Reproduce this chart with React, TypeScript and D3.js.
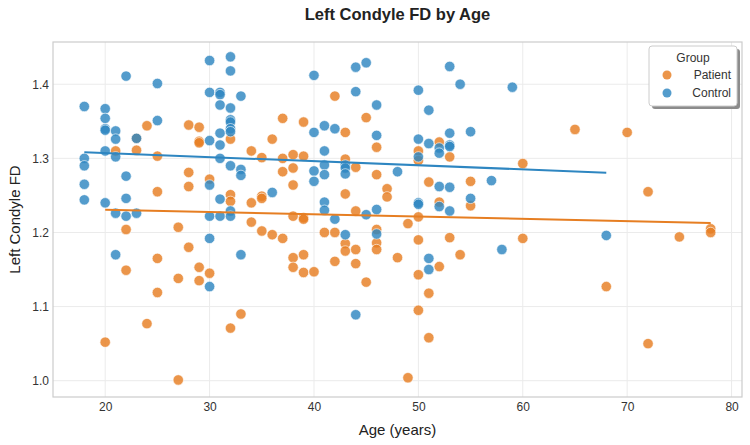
import { useEffect, useRef } from "react";
import * as d3 from "d3";

// Control group: ages and Left Condyle FD
const controlAge = [
  18, 18, 18, 18, 18,
  20, 20, 20, 20, 20, 20,
  21, 21, 21, 21, 21,
  22, 22, 22, 22,
  23, 23,
  25, 25,
  30, 30, 30, 30, 30, 30, 30,
  31, 31, 31, 31, 31, 31, 31, 31,
  32, 32, 32, 32, 32, 32, 32, 32, 32, 32,
  33, 33, 33, 33,
  36,
  40, 40, 40, 40,
  41, 41, 41, 41, 41, 41,
  42, 42,
  43, 43, 43, 43,
  44, 44, 44,
  45, 45,
  46, 46, 46, 46,
  48,
  50, 50, 50, 50, 50,
  51, 51, 51, 51,
  52, 52, 52, 52,
  53, 53, 53, 53, 53, 53,
  54,
  55, 55,
  57, 58, 59, 68,
];
const controlFD = [
  1.370, 1.300, 1.290, 1.265, 1.244,
  1.367, 1.354, 1.340, 1.338, 1.310, 1.240,
  1.337, 1.326, 1.302, 1.226, 1.170,
  1.411, 1.276, 1.246, 1.222,
  1.327, 1.226,
  1.401, 1.351,
  1.432, 1.389, 1.324, 1.264, 1.222, 1.192, 1.127,
  1.389, 1.386, 1.372, 1.334, 1.318, 1.300, 1.245, 1.222,
  1.437, 1.418, 1.368, 1.352, 1.349, 1.340, 1.336, 1.290, 1.229, 1.222,
  1.384, 1.285, 1.277, 1.170,
  1.254,
  1.412, 1.335, 1.283, 1.269,
  1.344, 1.310, 1.291, 1.278, 1.241, 1.230,
  1.340, 1.218,
  1.291, 1.287, 1.279, 1.197,
  1.423, 1.390, 1.089,
  1.429, 1.224,
  1.372, 1.331, 1.231, 1.198,
  1.282,
  1.392, 1.326, 1.302, 1.240, 1.238,
  1.365, 1.320, 1.165, 1.150,
  1.314, 1.307, 1.262, 1.235,
  1.424, 1.334, 1.318, 1.316, 1.261, 1.229,
  1.400,
  1.336, 1.246,
  1.270, 1.177, 1.396, 1.196,
];

// Patient group
const patientAge = [
  20, 21, 22, 22, 23, 23, 24, 24,
  25, 25, 25, 25,
  27, 27, 27,
  28, 28, 28, 28,
  29, 29, 29, 29, 29,
  30, 30,
  32, 32, 32, 32,
  33,
  34, 34, 34,
  35, 35, 35, 35,
  36, 36,
  37, 37, 37, 37,
  38, 38, 38, 38, 38, 38,
  39, 39, 39, 39, 39, 39,
  40, 41,
  42, 42, 42,
  43, 43, 43, 43, 43,
  44, 44, 44, 44,
  45, 45,
  46, 46, 46, 46, 46,
  47, 47, 48, 49, 49,
  50, 50, 50, 50, 50, 50,
  51, 51, 51,
  52, 52, 52,
  53, 53, 54, 55, 55,
  60, 60, 65, 68, 70, 72, 72, 75, 78, 78,
];
const patientFD = [
  1.052, 1.310, 1.204, 1.149, 1.327, 1.311, 1.344, 1.077,
  1.303, 1.255, 1.165, 1.119,
  1.207, 1.138, 1.001,
  1.345, 1.281, 1.262, 1.180,
  1.342, 1.323, 1.321, 1.153, 1.135,
  1.272, 1.145,
  1.326, 1.251, 1.242, 1.071,
  1.090,
  1.310, 1.240, 1.214,
  1.301, 1.249, 1.246, 1.202,
  1.326, 1.197,
  1.354, 1.300, 1.282, 1.192,
  1.305, 1.287, 1.264, 1.222, 1.166, 1.153,
  1.349, 1.303, 1.220, 1.218, 1.170, 1.146,
  1.147, 1.200,
  1.384, 1.200, 1.161,
  1.335, 1.299, 1.252, 1.185, 1.175,
  1.288, 1.229, 1.177, 1.158,
  1.355, 1.133,
  1.315, 1.278, 1.204, 1.186, 1.177,
  1.259, 1.248, 1.166, 1.212, 1.004,
  1.310, 1.297, 1.221, 1.190, 1.143, 1.095,
  1.268, 1.118, 1.058,
  1.322, 1.241, 1.154,
  1.302, 1.193, 1.170, 1.269, 1.236,
  1.293, 1.192, 1.339, 1.127, 1.335, 1.255, 1.050, 1.194, 1.205, 1.200,
];

const groups = ["Patient", "Control"];
const colors = ["#E67E22", "#2E86C1"];
const xTicks = [20, 30, 40, 50, 60, 70, 80];
const yTicks = [1.0, 1.1, 1.2, 1.3, 1.4];

const FONT = "'Liberation Sans', Arial, sans-serif";

const fit = (xs: number[], ys: number[]) => {
  const mx = d3.mean(xs) as number;
  const my = d3.mean(ys) as number;
  let num = 0;
  let den = 0;
  xs.forEach((x, i) => {
    num += (x - mx) * (ys[i] - my);
    den += (x - mx) * (x - mx);
  });
  const slope = num / den;
  return { slope, intercept: my - slope * mx };
};

const App = () => {
  const svgRef = useRef<SVGSVGElement>(null);

  useEffect(() => {
    const width = 750;
    const height = 445;
    const margin = { top: 42, right: 8, bottom: 48, left: 53 };

    const svg = d3.select(svgRef.current);
    svg.selectAll("*").remove();

    const x = d3.scaleLinear().domain([15, 81]).range([margin.left, width - margin.right]);
    const y = d3.scaleLinear().domain([0.978, 1.457]).range([height - margin.bottom, margin.top]);

    const series = [
      { name: groups[0], color: colors[0], ages: patientAge, fd: patientFD },
      { name: groups[1], color: colors[1], ages: controlAge, fd: controlFD },
    ];

    // grid
    svg.append("g")
      .selectAll("line")
      .data(xTicks)
      .enter()
      .append("line")
      .attr("x1", (d) => x(d))
      .attr("x2", (d) => x(d))
      .attr("y1", margin.top)
      .attr("y2", height - margin.bottom)
      .attr("stroke", "#ebebeb")
      .attr("stroke-width", 1);
    svg.append("g")
      .selectAll("line")
      .data(yTicks)
      .enter()
      .append("line")
      .attr("x1", margin.left)
      .attr("x2", width - margin.right)
      .attr("y1", (d) => y(d))
      .attr("y2", (d) => y(d))
      .attr("stroke", "#ebebeb")
      .attr("stroke-width", 1);

    // frame
    svg.append("rect")
      .attr("x", margin.left)
      .attr("y", margin.top)
      .attr("width", width - margin.left - margin.right)
      .attr("height", height - margin.top - margin.bottom)
      .attr("fill", "none")
      .attr("stroke", "#cccccc")
      .attr("stroke-width", 1.2);

    // points
    series.forEach((s) => {
      svg.append("g")
        .selectAll("circle")
        .data(s.ages.map((a, i) => [a, s.fd[i]]))
        .enter()
        .append("circle")
        .attr("cx", (d) => x(d[0]))
        .attr("cy", (d) => y(d[1]))
        .attr("r", 5.2)
        .attr("fill", s.color)
        .attr("fill-opacity", 0.82)
        .attr("stroke", "white")
        .attr("stroke-width", 0.6);
    });

    // regression lines
    series.forEach((s) => {
      const { slope, intercept } = fit(s.ages, s.fd);
      const [x0, x1] = d3.extent(s.ages) as [number, number];
      svg.append("line")
        .attr("x1", x(x0))
        .attr("x2", x(x1))
        .attr("y1", y(intercept + slope * x0))
        .attr("y2", y(intercept + slope * x1))
        .attr("stroke", s.color)
        .attr("stroke-width", 2);
    });

    // axes
    const xAxis = svg.append("g")
      .attr("transform", `translate(0,${height - margin.bottom})`)
      .call(d3.axisBottom(x).tickValues(xTicks).tickSize(0).tickPadding(5).tickFormat(d3.format("d")));
    const yAxis = svg.append("g")
      .attr("transform", `translate(${margin.left},0)`)
      .call(d3.axisLeft(y).tickValues(yTicks).tickSize(0).tickPadding(4).tickFormat(d3.format(".1f")));
    [xAxis, yAxis].forEach((g) => {
      g.select(".domain").remove();
      g.selectAll("text").attr("font-family", FONT).attr("font-size", 12).attr("fill", "#333");
    });

    // title and labels
    svg.append("text")
      .attr("x", (margin.left + width - margin.right) / 2)
      .attr("y", 20)
      .attr("text-anchor", "middle")
      .attr("font-family", FONT)
      .attr("font-size", 16.5)
      .attr("font-weight", "bold")
      .attr("fill", "#222")
      .text("Left Condyle FD by Age");
    svg.append("text")
      .attr("x", (margin.left + width - margin.right) / 2)
      .attr("y", 435)
      .attr("text-anchor", "middle")
      .attr("font-family", FONT)
      .attr("font-size", 15)
      .attr("fill", "#222")
      .text("Age (years)");
    svg.append("text")
      .attr("transform", `translate(20,${(margin.top + height - margin.bottom) / 2}) rotate(-90)`)
      .attr("text-anchor", "middle")
      .attr("font-family", FONT)
      .attr("font-size", 15)
      .attr("fill", "#222")
      .text("Left Condyle FD");

    // legend
    const lg = svg.append("g").attr("transform", "translate(649,46)");
    lg.append("rect")
      .attr("x", 3)
      .attr("y", 3)
      .attr("width", 88)
      .attr("height", 60)
      .attr("rx", 3)
      .attr("fill", "#8c8c8c");
    lg.append("rect")
      .attr("width", 88)
      .attr("height", 60)
      .attr("rx", 3)
      .attr("fill", "white")
      .attr("stroke", "#cccccc");
    lg.append("text")
      .attr("x", 44)
      .attr("y", 16)
      .attr("text-anchor", "middle")
      .attr("font-family", FONT)
      .attr("font-size", 12)
      .attr("fill", "#333")
      .text("Group");
    series.forEach((s, i) => {
      lg.append("circle")
        .attr("cx", 18)
        .attr("cy", 29 + i * 18)
        .attr("r", 4.5)
        .attr("fill", s.color)
        .attr("fill-opacity", 0.82);
      lg.append("text")
        .attr("x", 82)
        .attr("y", 33 + i * 18)
        .attr("text-anchor", "end")
        .attr("font-family", FONT)
        .attr("font-size", 12)
        .attr("fill", "#333")
        .text(s.name);
    });
  }, []);

  return <svg ref={svgRef} width={750} height={445} style={{ position: "absolute", left: 0, top: 0 }}></svg>;
};

export default App;
